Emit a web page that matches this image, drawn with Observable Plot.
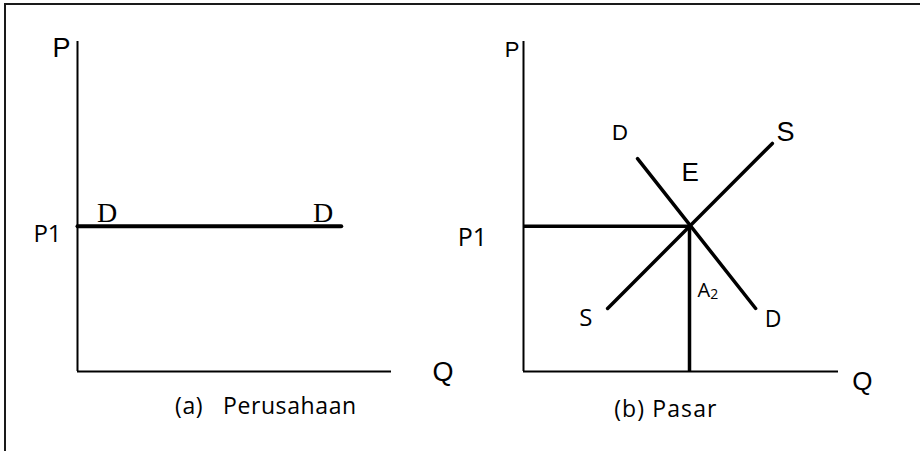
<!DOCTYPE html>
<html>
<head>
<meta charset="utf-8">
<script src="https://cdn.jsdelivr.net/npm/d3@7"></script>
<script src="https://cdn.jsdelivr.net/npm/@observablehq/plot@0.6"></script>
<style>
  html, body { margin: 0; padding: 0; background: white; }
  #wrap { position: relative; width: 920px; height: 451px; overflow: hidden; background: white; }
  #frame { position: absolute; left: 4px; top: 3px; width: 940px; height: 480px;
           border-top: 2px solid #1a1a1a; border-left: 2px solid #1a1a1a; box-sizing: border-box; }
  #a { position: absolute; left: 0; top: 0; }
  #b { position: absolute; left: 440px; top: 0; }
</style>
</head>
<body>
<div id="wrap"><div id="frame"></div><div id="a"></div><div id="b"></div></div>
<script>
// ---- data (Q on x, P on y; both axes run 0..10) ----
const axisOrigin = [0];
const priceP1 = 4.4;
const equilibriumQ = 5.27;

// (a) Perusahaan: perfectly elastic demand at P1
const firmDemandQ = [0, 8.4];

// (b) Pasar
const marketDemandQ = [3.62, 7.37];
const marketDemandP = [6.45, 1.91];
const marketSupplyQ = [2.67, 7.9];
const marketSupplyP = [1.91, 6.91];

// labels (text, q, p)
const axisLabelsA = [{t: "P", q: -0.51, p: 9.80}, {t: "Q", q: 11.64, p: -0.02}];
const tickLabelsA = [{t: "P1", q: -0.955, p: 4.15}];
const curveLabelsA = [{t: "D", q: 0.94, p: 4.80}, {t: "D", q: 7.82, p: 4.80}];
const captionA = [{t: "(a)\u00a0\u00a0\u00a0Perusahaan", q: 6.0, p: -1.05}];

const axisLabelsB = [{t: "P", q: -0.365, p: 9.74}, {t: "Q", q: 10.76, p: -0.30}];
const tickLabelsB = [{t: "P1", q: -1.62, p: 4.05}];
const curveLabelsTopB = [{t: "D", q: 3.06, p: 7.24, s: 22}, {t: "E", q: 5.29, p: 6.02, s: 26}, {t: "S", q: 8.32, p: 7.24, s: 27}];
const curveLabelsBottomB = [{t: "S", q: 1.98, p: 1.61, s: 24}, {t: "D", q: 7.92, p: 1.58, s: 23}];
const areaLabelB = [{t: "A", q: 5.52, p: 2.45}];
const areaSubscriptB = [{t: "2", q: 5.93, p: 2.34}];
const captionB = [{t: "(b) Pasar", q: 4.52, p: -1.17}];

// ---- helpers ----
const sans = "Open Sans";
const arial = "Liberation Sans, Arial, sans-serif";
const serif = "Liberation Serif, Times New Roman, serif";
const toPts = (qs, ps) => qs.map((q, i) => ({q, p: ps[i]}));

function base(marginLeft, marginRight, width) {
  return {
    width, height: 451,
    marginLeft, marginRight, marginTop: 41, marginBottom: 80,
    x: {domain: [0, 10], axis: null},
    y: {domain: [0, 10], axis: null},
    style: {background: "transparent", overflow: "visible", color: "black"}
  };
}
function spaceCaption(svg, caption, spacing) {
  svg.querySelectorAll("text").forEach(el => {
    if (el.textContent === caption) el.style.letterSpacing = spacing;
  });
}

// ---- panel (a) ----
const plotA = Plot.plot({
  ...base(77, 69, 460),
  marks: [
    Plot.ruleX(axisOrigin, {x: d => d, y1: 0, y2: 10, stroke: "black", strokeWidth: 2}),
    Plot.ruleY(axisOrigin, {y: d => d, x1: 0, x2: 10, stroke: "black", strokeWidth: 2}),
    Plot.line(firmDemandQ.map(q => ({q, p: priceP1})), {x: "q", y: "p", stroke: "black", strokeWidth: 4}),
    Plot.text(axisLabelsA, {x: "q", y: "p", text: "t", fontSize: 27, fontFamily: arial, fill: "black"}),
    Plot.text(tickLabelsA, {x: "q", y: "p", text: "t", fontSize: 24, fontFamily: sans, fill: "black"}),
    Plot.text(curveLabelsA, {x: "q", y: "p", text: "t", fontSize: 28, fontFamily: serif, fill: "black"}),
    Plot.text(captionA, {x: "q", y: "p", text: "t", fontSize: 23, fontFamily: sans, fill: "black"})
  ]
});
spaceCaption(plotA, captionA[0].t, "0.6px");
document.getElementById("a").append(plotA);

// ---- panel (b) ----
const plotB = Plot.plot({
  ...base(83, 82, 480),
  marks: [
    Plot.ruleX(axisOrigin, {x: d => d, y1: 0, y2: 10, stroke: "black", strokeWidth: 2}),
    Plot.ruleY(axisOrigin, {y: d => d, x1: 0, x2: 10, stroke: "black", strokeWidth: 2}),
    Plot.ruleY([priceP1], {y: d => d, x1: 0, x2: equilibriumQ, stroke: "black", strokeWidth: 3.5}),
    Plot.ruleX([equilibriumQ], {x: d => d, y1: 0, y2: priceP1, stroke: "black", strokeWidth: 3.5}),
    Plot.line(toPts(marketDemandQ, marketDemandP), {x: "q", y: "p", stroke: "black", strokeWidth: 3.5}),
    Plot.line(toPts(marketSupplyQ, marketSupplyP), {x: "q", y: "p", stroke: "black", strokeWidth: 3.5}),
    Plot.text(axisLabelsB.slice(0, 1), {x: "q", y: "p", text: "t", fontSize: 22, fontFamily: arial, fill: "black"}),
    Plot.text(axisLabelsB.slice(1), {x: "q", y: "p", text: "t", fontSize: 26, fontFamily: arial, fill: "black"}),
    Plot.text(tickLabelsB, {x: "q", y: "p", text: "t", fontSize: 25, fontFamily: sans, fill: "black"}),
    Plot.text(curveLabelsTopB, {x: "q", y: "p", text: "t", fontSize: "s", fontFamily: arial, fill: "black"}),
    Plot.text(curveLabelsBottomB, {x: "q", y: "p", text: "t", fontSize: "s", fontFamily: sans, fill: "black"}),
    Plot.text(areaLabelB, {x: "q", y: "p", text: "t", fontSize: 20, fontFamily: sans, textAnchor: "start", fill: "black"}),
    Plot.text(areaSubscriptB, {x: "q", y: "p", text: "t", fontSize: 14, fontFamily: sans, textAnchor: "start", fill: "black"}),
    Plot.text(captionB, {x: "q", y: "p", text: "t", fontSize: 23, fontFamily: sans, fill: "black"})
  ]
});
spaceCaption(plotB, captionB[0].t, "1.1px");
document.getElementById("b").append(plotB);
</script>
</body>
</html>
